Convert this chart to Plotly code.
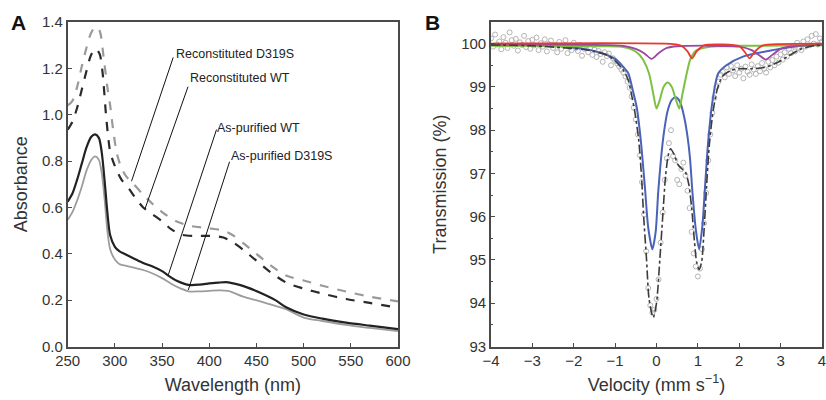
import plotly.graph_objects as go

# ---------------- Panel A: absorbance spectra ----------------
rd_wl = [250, 255, 260, 265, 270, 275, 280, 284, 288, 292, 295, 298, 302, 307, 312, 320, 330, 340, 350, 365, 380, 400, 415, 425, 436, 450, 465, 482, 500, 520, 545, 570, 600]
rd_abs = [1.04, 1.06, 1.12, 1.21, 1.29, 1.355, 1.38, 1.36, 1.25, 1.12, 1.04, 0.94, 0.835, 0.77, 0.734, 0.70, 0.655, 0.615, 0.58, 0.54, 0.52, 0.51, 0.50, 0.48, 0.446, 0.40, 0.35, 0.305, 0.285, 0.262, 0.237, 0.215, 0.195]

rw_wl = [250, 255, 260, 265, 270, 275, 280, 284, 287, 291, 295, 298, 303, 307, 315, 322, 330, 340, 350, 360, 371, 385, 401, 415, 425, 436, 450, 465, 482, 500, 520, 545, 570, 600]
rw_abs = [0.935, 0.97, 1.03, 1.11, 1.19, 1.26, 1.285, 1.26, 1.18, 0.98, 0.84, 0.80, 0.75, 0.72, 0.68, 0.64, 0.60, 0.57, 0.54, 0.505, 0.482, 0.477, 0.477, 0.47, 0.45, 0.417, 0.37, 0.32, 0.275, 0.25, 0.228, 0.205, 0.188, 0.167]

aw_wl = [250, 255, 260, 265, 270, 275, 279, 283, 286, 289, 292, 295, 300, 305, 310, 320, 330, 340, 350, 357, 365, 378, 390, 400, 410, 420, 430, 440, 454, 470, 482, 500, 520, 545, 570, 600]
aw_abs = [0.625, 0.66, 0.72, 0.79, 0.86, 0.905, 0.915, 0.90, 0.84, 0.72, 0.58, 0.48, 0.43, 0.41, 0.40, 0.38, 0.36, 0.345, 0.325, 0.305, 0.285, 0.266, 0.267, 0.272, 0.276, 0.277, 0.268, 0.255, 0.232, 0.20, 0.168, 0.138, 0.12, 0.103, 0.09, 0.075]

ad_wl = [250, 255, 260, 265, 270, 275, 279, 283, 286, 289, 292, 295, 300, 305, 310, 320, 330, 340, 350, 360, 370, 378, 390, 400, 410, 420, 436, 454, 470, 482, 500, 520, 545, 570, 600]
ad_abs = [0.547, 0.58, 0.63, 0.69, 0.76, 0.805, 0.82, 0.805, 0.75, 0.64, 0.50, 0.42, 0.375, 0.355, 0.35, 0.34, 0.33, 0.315, 0.295, 0.27, 0.25, 0.238, 0.238, 0.24, 0.242, 0.24, 0.215, 0.195, 0.175, 0.16, 0.125, 0.11, 0.093, 0.08, 0.066]

a_labels = ["Reconstituted D319S", "Reconstituted WT", "As-purified WT", "As-purified D319S"]
a_xticks = [250, 300, 350, 400, 450, 500, 550, 600]
a_yticks = [0.0, 0.2, 0.4, 0.6, 0.8, 1.0, 1.2, 1.4]

# ---------------- Panel B: Mossbauer spectrum ----------------
data_v = [-4.00, -3.95, -3.90, -3.85, -3.80, -3.75, -3.70, -3.65, -3.60, -3.55, -3.50, -3.45, -3.40, -3.35, -3.30, -3.25, -3.20, -3.15, -3.10, -3.05,
          -3.00, -2.95, -2.90, -2.85, -2.80, -2.75, -2.70, -2.65, -2.60, -2.55, -2.50, -2.45, -2.40, -2.35, -2.30, -2.25, -2.20, -2.15, -2.10, -2.05,
          -2.00, -1.95, -1.90, -1.85, -1.80, -1.75, -1.70, -1.65, -1.60, -1.55, -1.50, -1.45, -1.40, -1.35, -1.30, -1.25, -1.20, -1.15, -1.10, -1.05,
          -1.00, -0.95, -0.90, -0.85, -0.80, -0.75, -0.70, -0.65, -0.60, -0.55, -0.50, -0.45, -0.40, -0.35, -0.30, -0.25, -0.20, -0.15, -0.10, -0.05,
          0.00, 0.05, 0.10, 0.15, 0.20, 0.25, 0.30, 0.35, 0.40, 0.45, 0.50, 0.55, 0.60, 0.65, 0.70, 0.75, 0.80, 0.85, 0.90, 0.95,
          1.00, 1.05, 1.10, 1.15, 1.20, 1.25, 1.30, 1.35, 1.40, 1.45, 1.50, 1.55, 1.60, 1.65, 1.70, 1.75, 1.80, 1.85, 1.90, 1.95,
          2.00, 2.05, 2.10, 2.15, 2.20, 2.25, 2.30, 2.35, 2.40, 2.45, 2.50, 2.55, 2.60, 2.65, 2.70, 2.75, 2.80, 2.85, 2.90, 2.95,
          3.00, 3.05, 3.10, 3.15, 3.20, 3.25, 3.30, 3.35, 3.40, 3.45, 3.50, 3.55, 3.60, 3.65, 3.70, 3.75, 3.80, 3.85, 3.90, 3.95, 4.00]
data_t = [100.12, 99.93, 100.21, 99.98, 100.05, 99.87, 100.15, 100.02, 99.90, 100.26, 100.08, 99.95, 100.11, 99.84, 100.03, 99.97, 100.18, 99.92, 100.06, 99.88,
          100.09, 99.96, 100.14, 99.85, 100.01, 99.93, 100.10, 99.82, 99.99, 100.07, 99.90, 99.97, 99.80, 100.04, 99.88, 99.95, 100.08, 99.78, 99.92, 99.85,
          100.02, 99.90, 99.83, 99.97, 99.72, 99.88, 99.95, 99.80, 99.91, 99.74, 99.86, 99.69, 99.83, 99.76, 99.58, 99.80, 99.71, 99.77, 99.50, 99.66,
          99.60, 99.54, 99.47, 99.40, 99.33, 99.24, 99.12, 98.98, 98.78, 98.52, 98.25, 97.90, 97.42, 96.80, 96.05, 95.20, 94.35, 93.95, 93.78, 93.85,
          94.10, 94.55, 95.40, 96.10, 96.85, 97.35, 97.70, 98.00, 97.40, 97.30, 96.85, 96.75, 97.10, 97.25, 96.95, 96.60, 96.20, 95.65, 95.15, 94.85,
          94.62, 94.80, 95.25, 95.85, 96.55, 97.30, 97.90, 98.40, 98.75, 99.00, 99.12, 99.28, 99.35, 99.22, 99.45, 99.30, 99.48, 99.38, 99.25, 99.50,
          99.33, 99.42, 99.20, 99.47, 99.35, 99.28, 99.52, 99.40, 99.30, 99.48, 99.36, 99.55, 99.42, 99.33, 99.58, 99.45, 99.62, 99.50, 99.70, 99.56,
          99.75, 99.63, 99.80, 99.70, 99.88, 99.78, 99.95, 99.82, 100.02, 99.90, 99.85, 100.05, 99.93, 100.10, 99.96, 100.18, 100.00, 100.22, 99.98, 100.12, 100.05]

blue_v = [-4.0, -3.0, -2.2, -1.6, -1.3, -1.1, -0.96, -0.82, -0.68, -0.58, -0.48, -0.38, -0.28, -0.2, -0.1, -0.02, 0.04, 0.11, 0.18, 0.27, 0.37, 0.47, 0.57, 0.67, 0.75, 0.81, 0.87, 0.95, 1.03, 1.11, 1.17, 1.25, 1.35, 1.49, 1.69, 2.09, 2.81, 3.5, 4.0]
blue_t = [99.99, 99.97, 99.93, 99.85, 99.77, 99.70, 99.62, 99.48, 99.31, 98.95, 98.54, 97.77, 96.68, 95.75, 95.25, 95.65, 96.55, 97.35, 97.95, 98.45, 98.70, 98.76, 98.65, 98.30, 97.85, 97.35, 96.55, 95.70, 95.25, 95.80, 96.65, 97.75, 98.65, 99.31, 99.50, 99.70, 99.85, 99.95, 99.98]

green_v = [-4.0, -1.5, -0.84, -0.56, -0.42, -0.32, -0.18, -0.08, 0.0, 0.08, 0.17, 0.27, 0.37, 0.47, 0.55, 0.63, 0.73, 0.81, 0.9, 0.97, 1.29, 2.0, 4.0]
green_t = [99.95, 99.94, 99.93, 99.85, 99.75, 99.62, 99.31, 98.85, 98.50, 98.70, 99.00, 99.10, 99.00, 98.70, 98.50, 98.85, 99.31, 99.62, 99.78, 99.85, 99.93, 99.95, 99.96]

purple_v = [-4.0, -0.8, -0.5, -0.3, -0.12, 0.05, 0.25, 0.5, 2.0, 2.3, 2.5, 2.64, 2.8, 3.0, 3.3, 4.0]
purple_t = [99.97, 99.95, 99.88, 99.78, 99.65, 99.78, 99.90, 99.94, 99.93, 99.85, 99.72, 99.63, 99.74, 99.88, 99.94, 99.97]

red_v = [-4.0, 0.4, 0.6, 0.75, 0.86, 0.97, 1.15, 1.6, 2.0, 2.14, 2.25, 2.36, 2.55, 3.0, 4.0]
red_t = [100.0, 99.99, 99.95, 99.82, 99.66, 99.82, 99.96, 99.98, 99.94, 99.80, 99.66, 99.80, 99.95, 99.99, 100.0]

total_v = [-4.0, -3.0, -2.2, -1.78, -1.5, -1.2, -1.0, -0.81, -0.68, -0.62, -0.52, -0.43, -0.36, -0.31, -0.24, -0.18, -0.08, 0.0, 0.08, 0.15, 0.22, 0.29, 0.34, 0.42, 0.52, 0.62, 0.70, 0.78, 0.85, 0.92, 0.97, 1.03, 1.09, 1.15, 1.21, 1.28, 1.37, 1.47, 1.6, 1.8, 2.0, 2.3, 2.6, 2.9, 3.2, 3.5, 3.8, 4.0]
total_t = [99.97, 99.95, 99.90, 99.87, 99.82, 99.74, 99.60, 99.40, 99.15, 98.90, 98.40, 97.77, 96.90, 96.00, 95.00, 94.10, 93.67, 94.00, 95.00, 96.00, 96.95, 97.45, 97.57, 97.45, 97.20, 97.10, 97.03, 96.75, 96.20, 95.40, 94.95, 94.78, 94.95, 95.70, 96.70, 97.70, 98.45, 98.95, 99.25, 99.38, 99.42, 99.42, 99.45, 99.55, 99.72, 99.88, 99.95, 99.97]

b_xticks = [-4, -3, -2, -1, 0, 1, 2, 3, 4]
b_xticklabels = ["\u22124", "\u22123", "\u22122", "\u22121", "0", "1", "2", "3", "4"]
b_yticks = [93, 94, 95, 96, 97, 98, 99, 100]

FONT = "Liberation Sans, Arial, Helvetica, sans-serif"
AX = "#4a4a4a"
TXT = "#333333"

fig = go.Figure()

# Panel A traces
fig.add_trace(go.Scatter(x=rd_wl, y=rd_abs, mode="lines", line=dict(color="#9a9a9a", width=2.2, dash="dash", shape="spline", smoothing=0.8), xaxis="x", yaxis="y", showlegend=False))
fig.add_trace(go.Scatter(x=rw_wl, y=rw_abs, mode="lines", line=dict(color="#2a2a2a", width=2.2, dash="dash", shape="spline", smoothing=0.8), xaxis="x", yaxis="y", showlegend=False))
fig.add_trace(go.Scatter(x=ad_wl, y=ad_abs, mode="lines", line=dict(color="#9c9c9c", width=1.8, shape="spline", smoothing=0.8), xaxis="x", yaxis="y", showlegend=False))
fig.add_trace(go.Scatter(x=aw_wl, y=aw_abs, mode="lines", line=dict(color="#222222", width=2.2, shape="spline", smoothing=0.8), xaxis="x", yaxis="y", showlegend=False))

# Panel B traces
fig.add_trace(go.Scatter(x=data_v, y=data_t, mode="markers", marker=dict(symbol="circle-open", size=5, color="#b4b4b4", line=dict(width=1)), xaxis="x2", yaxis="y2", showlegend=False))
fig.add_trace(go.Scatter(x=blue_v, y=blue_t, mode="lines", line=dict(color="#4a63b8", width=2, shape="spline", smoothing=0.7), xaxis="x2", yaxis="y2", showlegend=False))
fig.add_trace(go.Scatter(x=green_v, y=green_t, mode="lines", line=dict(color="#7cc142", width=2, shape="spline", smoothing=0.7), xaxis="x2", yaxis="y2", showlegend=False))
fig.add_trace(go.Scatter(x=purple_v, y=purple_t, mode="lines", line=dict(color="#9b479f", width=1.8, shape="spline", smoothing=0.7), xaxis="x2", yaxis="y2", showlegend=False))
fig.add_trace(go.Scatter(x=red_v, y=red_t, mode="lines", line=dict(color="#e8392c", width=1.8, shape="spline", smoothing=0.7), xaxis="x2", yaxis="y2", showlegend=False))
fig.add_trace(go.Scatter(x=total_v, y=total_t, mode="lines", line=dict(color="#3c3c3c", width=1.6, dash="dashdot", shape="spline", smoothing=0.7), xaxis="x2", yaxis="y2", showlegend=False))

# Leader lines and labels for panel A
label_pos = [(362.6, 1.263), (377.5, 1.159), (406.0, 0.943), (421.0, 0.823)]
leaders = [((361.8, 1.247), (317.6, 0.713)), ((377.5, 1.121), (331.9, 0.594)), ((407.7, 0.936), (356.6, 0.309)), ((421.5, 0.797), (377.8, 0.244))]
shapes = []
annotations = []
for (lx, ly), ((x0, y0), (x1, y1)), txt in zip(label_pos, leaders, a_labels):
    shapes.append(dict(type="line", xref="x", yref="y", x0=x0, y0=y0, x1=x1, y1=y1, line=dict(color="#111111", width=1)))
    annotations.append(dict(x=lx, y=ly, xref="x", yref="y", text=txt, showarrow=False, xanchor="left", yanchor="middle", font=dict(size=12.5, color="#222222", family=FONT)))

# Panel letters
annotations.append(dict(x=18 / 826, y=1 - 22 / 400, xref="paper", yref="paper", text="<b>A</b>", showarrow=False, xanchor="center", yanchor="middle", font=dict(size=21, color="#111111", family=FONT)))
annotations.append(dict(x=432 / 826, y=1 - 22 / 400, xref="paper", yref="paper", text="<b>B</b>", showarrow=False, xanchor="center", yanchor="middle", font=dict(size=21, color="#111111", family=FONT)))

axis_common = dict(showline=True, linecolor=AX, linewidth=1.6, mirror=True, ticks="inside", ticklen=4, tickcolor=AX, tickwidth=1.2,
                   showgrid=False, zeroline=False, automargin=False, ticklabeloverflow="allow",
                   tickfont=dict(size=15, color=TXT, family=FONT))

fig.update_layout(
    width=826, height=400,
    margin=dict(l=0, r=0, t=0, b=0),
    paper_bgcolor="white", plot_bgcolor="white",
    font=dict(family=FONT, color=TXT),
    shapes=shapes, annotations=annotations,
    xaxis=dict(domain=[67.7 / 826, 398 / 826], range=[250, 600], tickvals=a_xticks, anchor="y",
               title=dict(text="Wavelength (nm)", font=dict(size=18, color=TXT), standoff=10), **axis_common),
    yaxis=dict(domain=[53.5 / 400, 378 / 400], range=[0, 1.4], tickvals=a_yticks, tickformat=".1f", anchor="x",
               title=dict(text="Absorbance", font=dict(size=18, color=TXT), standoff=10), **axis_common),
    xaxis2=dict(domain=[491 / 826, 822 / 826], range=[-4, 4], tickvals=b_xticks, ticktext=b_xticklabels, anchor="y2",
                title=dict(text="Velocity (mm s<sup>\u22121</sup>)", font=dict(size=18, color=TXT), standoff=10), **axis_common),
    yaxis2=dict(domain=[53.5 / 400, 378 / 400], range=[93, 100.5], tickvals=b_yticks, anchor="x2",
                minor=dict(dtick=0.5, ticks="inside", ticklen=2.5, tickcolor=AX),
                title=dict(text="Transmission (%)", font=dict(size=18, color=TXT), standoff=10), **axis_common),
)

fig.write_html("out.html", config={"displayModeBar": False},
               post_script="document.body.style.margin='0px';document.body.style.overflow='hidden';")
